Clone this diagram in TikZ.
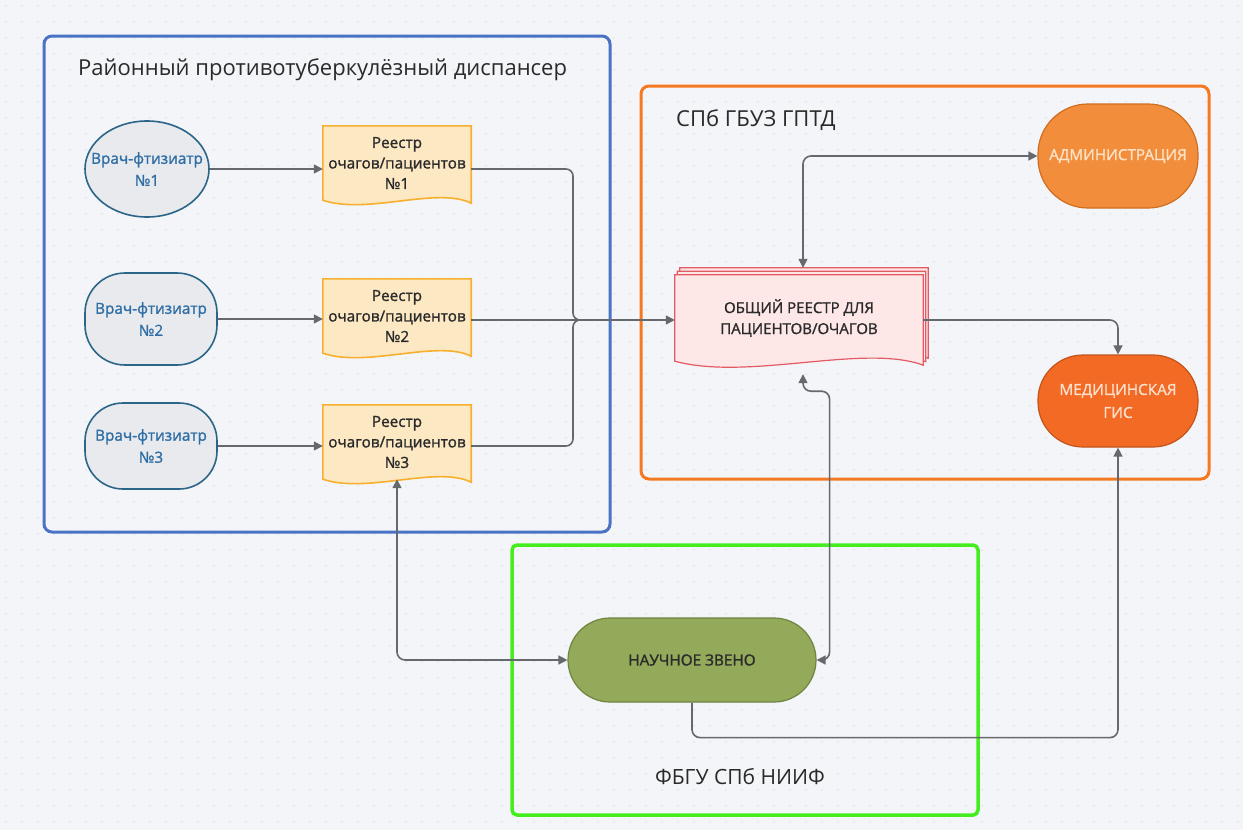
\documentclass[tikz,border=0pt]{standalone}
\usepackage{fontspec}
\setmainfont{Open Sans}
\newfontfamily\semib{Open Sans}[FakeBold=1.3]
\usetikzlibrary{arrows.meta,calc,shapes.geometric}
\definecolor{bgc}{HTML}{F4F5F8}
\definecolor{dotc}{HTML}{DFE0E6}
\definecolor{grpblue}{HTML}{4A72C6}
\definecolor{grporange}{HTML}{F47920}
\definecolor{grpgreen}{HTML}{44EE1E}
\definecolor{docfill}{HTML}{FDE8C4}
\definecolor{docdraw}{HTML}{F7B02E}
\definecolor{regfill}{HTML}{FDE7E7}
\definecolor{regdraw}{HTML}{E25A64}
\definecolor{admfill}{HTML}{F28E3B}
\definecolor{admdraw}{HTML}{CF6D22}
\definecolor{admtext}{HTML}{FDE2C8}
\definecolor{gisfill}{HTML}{F26A24}
\definecolor{gisdraw}{HTML}{C2541C}
\definecolor{gistext}{HTML}{FCE0CC}
\definecolor{scifill}{HTML}{93AA5B}
\definecolor{scidraw}{HTML}{6F8440}
\definecolor{docfillb}{HTML}{E8EAEE}
\definecolor{docdrawb}{HTML}{2B6689}
\definecolor{doctext}{HTML}{2F6EA5}
\definecolor{conncol}{HTML}{65696E}
\definecolor{txtdark}{HTML}{2A2A2A}
\pgfdeclarelayer{bglayer}
\pgfdeclarelayer{shapelayer}
\pgfsetlayers{bglayer,shapelayer,main}
\begin{document}
\begin{tikzpicture}[x=1pt,y=-1pt,
  grp/.style={line width=3pt,rounded corners=8pt},
  grptitle/.style={font=\fontsize{22}{26}\selectfont,text=txtdark,inner sep=0pt},
  doctor/.style={draw=docdrawb,fill=docfillb,line width=1.6pt,text=doctext,align=center,
    font=\semib\fontsize{15.3}{22}\selectfont,inner sep=0pt},
  docnode/.style={draw=none,minimum width=148pt,minimum height=74pt,align=center,inner sep=0pt,
    font=\semib\fontsize{15.3}{20.5}\selectfont,text=txtdark},
  docst/.style={fill=docfill,draw=docdraw,line width=1.6pt},
  regst/.style={fill=regfill,draw=regdraw,line width=1.2pt},
  term/.style={line width=1.2pt,align=center,inner sep=0pt,font=\semib\fontsize{15.3}{23}\selectfont},
  conn/.style={draw=conncol,line width=1.6pt,rounded corners=8pt},
  tip/.style={-{Triangle[length=9pt,width=9pt]}},
  tips/.style={{Triangle[length=9pt,width=9pt]}-{Triangle[length=9pt,width=9pt]}}
]
\useasboundingbox (0,0) rectangle (1243,830);
\begin{pgfonlayer}{bglayer}
\fill[bgc] (0,0) rectangle (1243,830);
\foreach \i in {0,...,77} {\foreach \j in {0,...,51} {\fill[dotc] (6+\i*16,6+\j*16) circle (0.8);}}
\draw[grp,draw=grpblue] (44,36) rectangle (610,532);
\draw[grp,draw=grporange] (641,86) rectangle (1209,479);
\draw[grp,draw=grpgreen,line width=3.5pt,rounded corners=5pt] (512,545) rectangle (978,815);
\end{pgfonlayer}

% titles
\node[grptitle,anchor=west] (tblue) at (78,70) {Районный противотуберкулёзный диспансер};
\node[grptitle,anchor=west] (torange) at (676,120) {СПб ГБУЗ ГПТД};
\node[grptitle,font=\fontsize{21}{26}\selectfont] (tgreen) at (740,777) {ФБГУ СПб НИИФ};

% doctors
\node[doctor,ellipse,inner xsep=-22pt,minimum width=124pt,minimum height=96pt] (e1) at (147,169) {Врач-фтизиатр\\№1};
\node[doctor,rounded corners=40pt,minimum width=132pt,minimum height=92pt] (e2) at (151,319) {Врач-фтизиатр\\№2};
\node[doctor,rounded corners=38pt,minimum width=132pt,minimum height=86pt] (e3) at (151,446) {Врач-фтизиатр\\№3};

% registries
\node[docnode] (d1) at (397,163) {Реестр\\очагов/пациентов\\№1};
\node[docnode] (d2) at (397,316) {Реестр\\очагов/пациентов\\№2};
\node[docnode] (d3) at (397,442) {Реестр\\очагов/пациентов\\№3};
\begin{pgfonlayer}{shapelayer}
\foreach \n in {d1,d2,d3} {
  \filldraw[docst] (\n.north west) -- (\n.north east) -- ($(\n.south east)+(0,3)$)
    .. controls ($(\n.south)+(40,-14)$) and ($(\n.south)+(-30,15)$) .. (\n.south west) -- cycle;
}
\end{pgfonlayer}

% general registry
\node[draw=none,minimum width=248pt,minimum height=86pt,align=center,inner sep=0pt,
  font=\semib\fontsize{15}{21}\selectfont,text=txtdark] (reg) at (799,318) {ОБЩИЙ РЕЕСТР ДЛЯ\\ПАЦИЕНТОВ/ОЧАГОВ};
\begin{pgfonlayer}{shapelayer}
\foreach \dx/\dy in {5/-7,2.5/-3.5,0/0} {
  \filldraw[regst] ($(reg.north west)+(\dx,\dy)$) -- ($(reg.north east)+(\dx,\dy)$) -- ($(reg.south east)+(\dx,\dy+4)$)
    .. controls ($(reg.south)+(\dx+65,\dy-18)$) and ($(reg.south)+(\dx-50,\dy+20)$) .. ($(reg.south west)+(\dx,\dy)$) -- cycle;
}
\end{pgfonlayer}

% terminators
\node[term,draw=admdraw,fill=admfill,text=admtext,rounded corners=50pt,minimum width=160pt,minimum height=104pt] (adm) at (1118,156) {АДМИНИСТРАЦИЯ};
\node[term,draw=gisdraw,fill=gisfill,text=gistext,rounded corners=45pt,minimum width=160pt,minimum height=92pt] (gis) at (1118,401) {МЕДИЦИНСКАЯ\\ГИС};
\node[term,draw=scidraw,fill=scifill,text=txtdark,rounded corners=42pt,minimum width=248pt,minimum height=84pt] (sci) at (692,660) {НАУЧНОЕ ЗВЕНО};

% connectors
\coordinate (j) at (573,320);
\draw[conn,tip] (e1.east) -- (e1.east -| d1.west);
\draw[conn,tip] (e2.east) -- (e2.east -| d2.west);
\draw[conn,tip] (e3.east) -- (e3.east -| d3.west);
\draw[conn,rounded corners=7pt] (d1.east |- e1.east) -- (j |- e1.east) -- (j) -- ([xshift=9pt]j);
\draw[conn,rounded corners=7pt] (d3.east |- e3.east) -- (j |- e3.east) -- (j) -- ([xshift=9pt]j);
\draw[conn,tip] (d2.east |- j) -- (reg.west |- j);
\coordinate (rt) at ($(reg.north)+(4,-7)$);
\draw[conn,tips] (rt) -- (rt |- adm.west) -- (adm.west);
\draw[conn,tip] (reg.east |- j) -- (gis.north |- j) -- (gis.north);
\draw[conn,tips] (d3.south) -- (d3.south |- sci.west) -- (sci.west);
\coordinate (rb) at ($(reg.south)+(4,13)$);
\draw[conn,tips] (rb) -- ++(0,17) -| ($(sci.east)+(13,0)$) -- (sci.east);
\draw[conn,tip] (sci.south) -- ++(0,35) -| (gis.south);
\end{tikzpicture}
\end{document}
